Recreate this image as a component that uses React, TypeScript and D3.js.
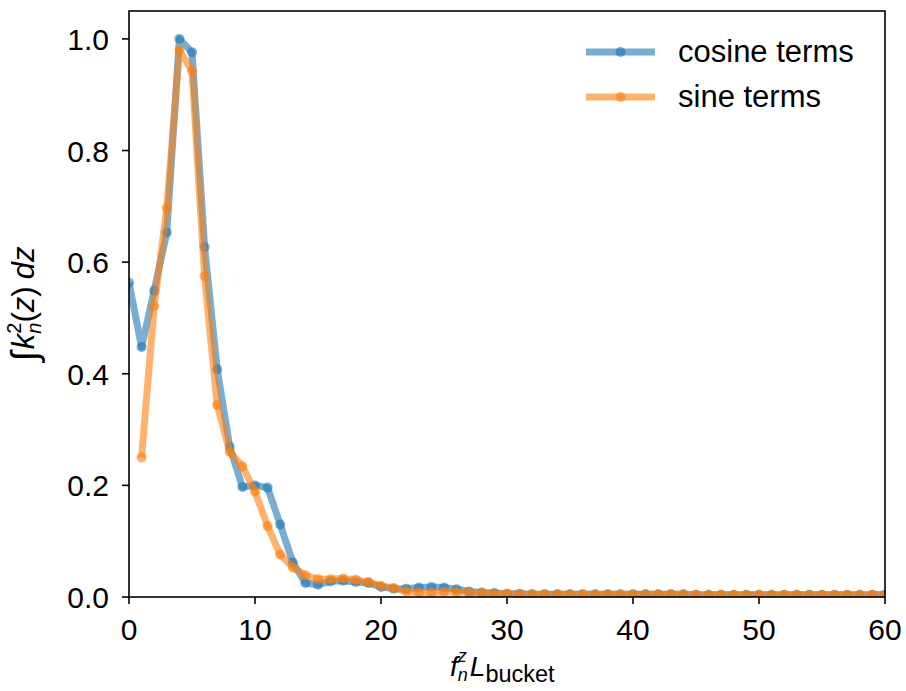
import React from "react";
import * as d3 from "d3";

const cosineX = d3.range(0, 61);
const cosineY = [
  0.563, 0.448, 0.549, 0.653, 1.0, 0.976, 0.627, 0.408, 0.269, 0.197,
  0.2, 0.196, 0.13, 0.062, 0.025, 0.022, 0.028, 0.029, 0.027, 0.025,
  0.018, 0.015, 0.015, 0.017, 0.018, 0.017, 0.014, 0.01, 0.008, 0.007,
  0.006, 0.006, 0.005, 0.005, 0.005, 0.005, 0.005, 0.005, 0.005, 0.005,
  0.005, 0.005, 0.005, 0.005, 0.005, 0.004, 0.004, 0.004, 0.004, 0.004,
  0.004, 0.004, 0.004, 0.004, 0.004, 0.004, 0.004, 0.004, 0.004, 0.004,
  0.004,
];
const sineX = d3.range(1, 61);
const sineY = [
  0.25, 0.521, 0.697, 0.98, 0.943, 0.575, 0.344, 0.26, 0.234,
  0.189, 0.127, 0.076, 0.053, 0.039, 0.032, 0.032, 0.033, 0.031, 0.027,
  0.02, 0.016, 0.01, 0.008, 0.008, 0.009, 0.009, 0.008, 0.007, 0.006,
  0.006, 0.005, 0.005, 0.005, 0.005, 0.005, 0.005, 0.005, 0.005, 0.005,
  0.005, 0.005, 0.005, 0.005, 0.005, 0.004, 0.004, 0.004, 0.004, 0.004,
  0.004, 0.004, 0.004, 0.004, 0.004, 0.004, 0.004, 0.004, 0.004, 0.004,
  0.004,
];
const xTicks = [0, 10, 20, 30, 40, 50, 60];
const yTicks = [0.0, 0.2, 0.4, 0.6, 0.8, 1.0];
const seriesNames = ["cosine terms", "sine terms"];
const seriesColors = ["#1f77b4", "#ff7f0e"];

const W = 906;
const H = 691;
const L = 129;
const R = 885;
const T = 11;
const B = 597;
const FONT = "'Liberation Sans', Arial, Helvetica, sans-serif";

export default function App() {
  const x = d3.scaleLinear().domain([0, 60]).range([L, R]);
  const y = d3.scaleLinear().domain([0, 1.05]).range([B, T]);
  const series = [
    { xs: cosineX, ys: cosineY },
    { xs: sineX, ys: sineY },
  ];
  const line = d3
    .line<[number, number]>()
    .x((d) => x(d[0]))
    .y((d) => y(d[1]));

  return (
    <svg
      width={W}
      height={H}
      style={{ position: "absolute", left: 0, top: 0, background: "#fff" }}
      fontFamily={FONT}
    >
      <defs>
        <clipPath id="plotclip">
          <rect x={L} y={T} width={R - L} height={B - T} />
        </clipPath>
      </defs>
      <g clipPath="url(#plotclip)">
        {series.map((s, i) => {
          const pts: [number, number][] = s.xs.map((v, j) => [v, s.ys[j]]);
          return (
            <g key={i}>
              <path
                d={line(pts) || ""}
                fill="none"
                stroke={seriesColors[i]}
                strokeOpacity={0.6}
                strokeWidth={7}
                strokeLinejoin="round"
                strokeLinecap="butt"
              />
              {pts.map((p, j) => (
                <circle
                  key={j}
                  cx={x(p[0])}
                  cy={y(p[1])}
                  r={5}
                  fill={seriesColors[i]}
                  fillOpacity={0.6}
                />
              ))}
            </g>
          );
        })}
      </g>
      {/* spines */}
      <rect x={L} y={T} width={R - L} height={B - T} fill="none" stroke="#000" strokeWidth={1.6} />
      {/* x ticks */}
      {xTicks.map((t) => (
        <g key={t}>
          <line x1={x(t)} x2={x(t)} y1={B} y2={B + 7} stroke="#000" strokeWidth={1.6} />
          <text x={x(t)} y={640} textAnchor="middle" fontSize={30} fill="#000">
            {t}
          </text>
        </g>
      ))}
      {/* y ticks */}
      {yTicks.map((t) => (
        <g key={t}>
          <line x1={L - 7} x2={L} y1={y(t)} y2={y(t)} stroke="#000" strokeWidth={1.6} />
          <text x={L - 20} y={y(t) + 11} textAnchor="end" fontSize={30} fill="#000">
            {t.toFixed(1)}
          </text>
        </g>
      ))}
      {/* x label */}
      <text x={450} y={676} textAnchor="start" fontSize={28} fill="#000">
        <tspan fontStyle="italic">f</tspan>
        <tspan fontStyle="italic" fontSize={18} dy={-14}>z</tspan>
        <tspan fontStyle="italic" fontSize={18} dx={-9} dy={19}>n</tspan>
        <tspan fontStyle="italic" dy={-5} dx={2}>L</tspan>
        <tspan fontSize={23.5} dy={6}>bucket</tspan>
      </text>
      {/* y label */}
      <text
        transform={`translate(34, ${(T + B) / 2}) rotate(-90)`}
        textAnchor="middle"
        fontSize={31}
        fill="#000"
      >
        <tspan fontSize={37} dy={3}>∫</tspan>
        <tspan fontStyle="italic" dy={-3} dx={2}>k</tspan>
        <tspan fontSize={20} dy={-13}>2</tspan>
        <tspan fontStyle="italic" fontSize={20} dx={-11} dy={20}>n</tspan>
        <tspan dy={-7}>(</tspan>
        <tspan fontStyle="italic">z</tspan>
        <tspan>)</tspan>
        <tspan fontStyle="italic" dx={7}>dz</tspan>
      </text>
      {/* legend */}
      {seriesNames.map((name, i) => {
        const ly = 52 + i * 45;
        return (
          <g key={name}>
            <line x1={586} x2={655} y1={ly} y2={ly} stroke={seriesColors[i]} strokeOpacity={0.6} strokeWidth={7} />
            <circle cx={620.5} cy={ly} r={5} fill={seriesColors[i]} fillOpacity={0.6} />
            <text x={678} y={ly + 10} fontSize={31} fill="#000">
              {name}
            </text>
          </g>
        );
      })}
    </svg>
  );
}
